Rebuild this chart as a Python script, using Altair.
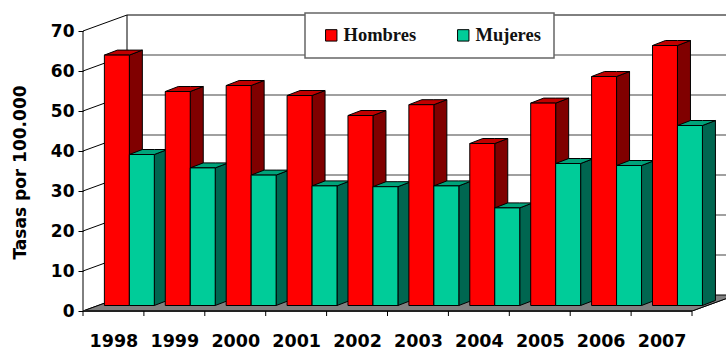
import altair as alt
import pandas as pd

years = [1998, 1999, 2000, 2001, 2002, 2003, 2004, 2005, 2006, 2007]
hombres = [62.6, 53.5, 55.0, 52.5, 47.5, 50.2, 40.5, 50.6, 57.25, 65.0]
mujeres = [37.75, 34.4, 32.6, 29.9, 29.7, 29.9, 24.4, 35.5, 35.0, 45.0]
y_ticks = [0, 10, 20, 30, 40, 50, 60, 70]

# Oblique projection of the depth axis, in scale units
WALL_DX, WALL_DY = 0.7225, 4.0
BAR_DX, BAR_DY = 0.2135, 1.25
BAR_BASE = 1.375
BAR_START, BAR_WIDTH = 0.351, 0.41
X_MAX = 10.558

palette = {
    "Hombres": "#ff0000", "Mujeres": "#00cc99",
    "Hombres lado": "#800000", "Hombres tapa": "#c00000",
    "Mujeres lado": "#006650", "Mujeres tapa": "#00a37a",
    "Suelo": "#808080",
}

faces = []


def add_face(face_id, kind, rows):
    for x, low, high in rows:
        faces.append({"id": face_id, "kind": kind, "x": x, "low": low, "high": high})


# Floor first, then each bar painted back to front: side, lid, front
add_face("floor", "Suelo", [
    (0, 0, 0), (WALL_DX, 0, WALL_DY), (10, 0, WALL_DY), (10 + WALL_DX, WALL_DY, WALL_DY),
])
for i, (h, m) in enumerate(zip(hombres, mujeres)):
    for j, (name, v) in enumerate([("Hombres", h), ("Mujeres", m)]):
        left = i + BAR_START + j * BAR_WIDTH
        right = left + BAR_WIDTH
        top = v + BAR_BASE
        add_face(f"{i}-{j}-side", f"{name} lado", [
            (right, BAR_BASE, top),
            (right + BAR_DX, BAR_BASE + BAR_DY, top + BAR_DY),
        ])
        add_face(f"{i}-{j}-lid", f"{name} tapa", [
            (left, top, top),
            (left + BAR_DX, top, top + BAR_DY),
            (right, top, top + BAR_DY),
            (right + BAR_DX, top + BAR_DY, top + BAR_DY),
        ])
        add_face(f"{i}-{j}-front", name, [(left, BAR_BASE, top), (right, BAR_BASE, top)])
faces_df = pd.DataFrame(faces)

# Wall lines: diagonals at each tick, both verticals, top edge, rear edge
wall = []
for v in y_ticks:
    wall += [{"id": f"d{v}", "x": 0, "y": v}, {"id": f"d{v}", "x": WALL_DX, "y": v + WALL_DY}]
wall += [{"id": "front", "x": 0, "y": 0}, {"id": "front", "x": 0, "y": 70}]
wall += [{"id": "back", "x": WALL_DX, "y": WALL_DY}, {"id": "back", "x": WALL_DX, "y": 70 + WALL_DY}]
wall += [{"id": "top", "x": WALL_DX, "y": 70 + WALL_DY}, {"id": "top", "x": X_MAX, "y": 70 + WALL_DY}]
wall += [{"id": "rear", "x": 10 + WALL_DX, "y": WALL_DY}, {"id": "rear", "x": X_MAX, "y": WALL_DY}]
wall += [{"id": "right", "x": 10, "y": 0}, {"id": "right", "x": 10 + WALL_DX, "y": WALL_DY}]
wall_df = pd.DataFrame(wall)

grid_df = pd.DataFrame({"y": [v + WALL_DY for v in y_ticks[1:-1]], "x": WALL_DX, "x2": X_MAX})
front_df = pd.DataFrame({"x": [0], "x2": [10], "y": [0]})
labels_df = pd.DataFrame({"x": [i + 0.5 for i in range(len(years))], "y": 0})
ticks_df = pd.DataFrame({"x": list(range(len(years) + 1))})

AXIS_FONT = "DejaVu Sans"
x_scale = alt.Scale(domain=[0, X_MAX], nice=False, zero=False)
y_scale = alt.Scale(domain=[0, 74], nice=False)
x_axis = alt.Axis(
    values=labels_df["x"].tolist(), domain=False, ticks=False, grid=False,
    labelExpr=f"format({years[0]} + floor(datum.value), 'd')",
    labelFont=AXIS_FONT, labelFontWeight="bold", labelFontSize=17.5,
    labelColor="black", labelPadding=21, labelFlush=False, labelOverlap=False)
y_axis = alt.Axis(
    values=y_ticks, domain=False, grid=False, tickColor="black", tickSize=5,
    labelFont=AXIS_FONT, labelFontWeight="bold", labelFontSize=17, labelColor="black",
    labelPadding=4, titleFont=AXIS_FONT, titleFontWeight="bold", titleFontSize=17,
    titleColor="black", titleX=-54, titleY=157)


def x_enc():
    return alt.X("x:Q", scale=x_scale, title=None, axis=x_axis)


def y_enc(field):
    return alt.Y(field, scale=y_scale, title="Tasas por 100.000", axis=y_axis, stack=None)


grid = alt.Chart(grid_df).mark_rule(color="#808080", strokeWidth=1.5).encode(
    x=x_enc(), x2="x2:Q", y=y_enc("y:Q"),
)

wall_lines = alt.Chart(wall_df).mark_line(color="black", strokeWidth=1).encode(
    x=x_enc(), y=y_enc("y:Q"), detail="id:N",
)

bars = alt.Chart(faces_df).mark_area(stroke="black", strokeWidth=1, clip=True).encode(
    x=x_enc(),
    y=y_enc("low:Q"),
    y2="high:Q",
    detail="id:N",
    color=alt.Color("kind:N", scale=alt.Scale(domain=list(palette), range=list(palette.values())),
                    legend=alt.Legend(
                        values=["Hombres", "Mujeres"], orient="none", legendX=222, legendY=-2,
                        direction="horizontal", columns=2, title=None, fillColor="white",
                        strokeColor="#666666", padding=13, columnPadding=33, symbolOffset=4,
                        symbolType="square", symbolSize=130, symbolStrokeColor="black",
                        symbolStrokeWidth=1, labelFont="Liberation Serif", labelFontWeight="bold",
                        labelFontSize=18.5, labelColor="#111111", labelOffset=3)),
)

front_edge = alt.Chart(front_df).mark_rule(color="#222222", strokeWidth=2).encode(
    x=x_enc(), x2="x2:Q", y=y_enc("y:Q"),
)

x_ticks = alt.Chart(ticks_df).mark_rule(color="black", strokeWidth=1).encode(
    x=x_enc(),
    y=alt.value(296), y2=alt.value(301),
)

chart = alt.layer(grid, wall_lines, bars, front_edge, x_ticks).properties(
    width=643, height=296, background="white",
    padding={"left": 83, "top": 15, "right": 0, "bottom": 38},
    autosize=alt.AutoSizeParams(type="none"),
).configure_view(stroke=None).configure_legend(strokeWidth=1.5)

chart.save("out.html", embed_options={"renderer": "svg", "actions": False})
